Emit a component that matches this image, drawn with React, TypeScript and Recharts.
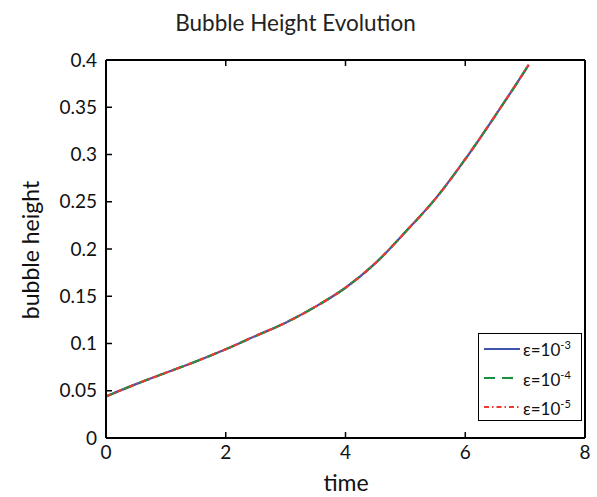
import { LineChart, Line, XAxis, YAxis, Legend } from 'recharts';

// bubble height vs time
const times = [0, 0.5, 1, 1.5, 2, 2.5, 3, 3.5, 4, 4.5, 5, 5.5, 6, 6.5, 7, 7.06];
const heightEps3 = [0.044, 0.057, 0.069, 0.081, 0.094, 0.108, 0.122, 0.139, 0.159, 0.185, 0.218, 0.253, 0.295, 0.341, 0.389, 0.395];
const heightEps4 = [0.044, 0.057, 0.069, 0.081, 0.094, 0.108, 0.122, 0.139, 0.159, 0.185, 0.218, 0.253, 0.295, 0.341, 0.389, 0.395];
const heightEps5 = [0.044, 0.057, 0.069, 0.081, 0.094, 0.108, 0.122, 0.139, 0.159, 0.185, 0.218, 0.253, 0.295, 0.341, 0.389, 0.395];

const xTicks = [0, 2, 4, 6, 8];
const yTicks = [0, 0.05, 0.1, 0.15, 0.2, 0.25, 0.3, 0.35, 0.4];

const seriesInfo = [
  { key: 'e3', exp: '-3', color: '#3f55ad', dash: undefined },
  { key: 'e4', exp: '-4', color: '#17903f', dash: '11 7' },
  { key: 'e5', exp: '-5', color: '#ee3a2c', dash: '5 3 1.5 3' },
];

const data = times.map((t, i) => ({ t, e3: heightEps3[i], e4: heightEps4[i], e5: heightEps5[i] }));

const FONT = 'Lato, "DejaVu Sans", sans-serif';
const tickStyle = { fill: '#111', fontSize: 19, fontFamily: FONT };
const axisLine = { stroke: '#000', strokeWidth: 2 };
const tickLine = { stroke: '#000', strokeWidth: 1.5 };
const NoLabel = () => <g />;

function LegendBox() {
  return (
    <div style={{ width: 104, height: 88, border: '1.5px solid #000', background: '#fff', boxSizing: 'border-box', fontFamily: FONT }}>
      {seriesInfo.map((s) => (
        <div key={s.key} style={{ display: 'flex', alignItems: 'center', height: 29.3 }}>
          <svg width={41} height={10} style={{ marginLeft: 3 }}>
            <line x1={2} x2={38} y1={5} y2={5} stroke={s.color} strokeWidth={2.2} strokeDasharray={s.dash} />
          </svg>
          <span style={{ fontSize: 17, color: '#111', lineHeight: 1 }}>
            ε=10<sup style={{ fontSize: 11 }}>{s.exp}</sup>
          </span>
        </div>
      ))}
    </div>
  );
}

export default function App() {
  return (
    <div style={{ position: 'absolute', left: 0, top: 0, width: 597, height: 497, background: '#fff' }}>
      <div style={{ position: 'absolute', left: 0, width: 591, top: 9, textAlign: 'center', fontFamily: FONT, fontSize: 22.5, color: '#222' }}>
        Bubble Height Evolution
      </div>
      <div style={{ position: 'absolute', left: 346, top: 468, transform: 'translateX(-50%)', fontFamily: FONT, fontSize: 23, color: '#111' }}>
        time
      </div>
      <div style={{ position: 'absolute', left: 30, top: 250, transform: 'translate(-50%, -50%) rotate(-90deg)', whiteSpace: 'nowrap', fontFamily: FONT, fontSize: 23, color: '#111' }}>
        bubble height
      </div>
      <LineChart width={597} height={497} data={data} margin={{ top: 0, right: 0, bottom: 0, left: 0 }}>
        <XAxis xAxisId="b" dataKey="t" type="number" domain={[0, 8]} ticks={xTicks} orientation="bottom" height={59}
          axisLine={axisLine} tickLine={tickLine} tickSize={-6} tickMargin={14} tick={tickStyle} interval={0} />
        <XAxis xAxisId="t" dataKey="t" type="number" domain={[0, 8]} ticks={xTicks} orientation="top" height={60}
          axisLine={axisLine} tickLine={tickLine} tickSize={-6} tick={NoLabel} interval={0} />
        <YAxis yAxisId="l" type="number" domain={[0, 0.4]} ticks={yTicks} orientation="left" width={106}
          axisLine={axisLine} tickLine={tickLine} tickSize={-6} tickMargin={15} tick={tickStyle} interval={0} />
        <YAxis yAxisId="r" type="number" domain={[0, 0.4]} ticks={yTicks} orientation="right" width={12}
          axisLine={axisLine} tickLine={tickLine} tickSize={-6} tick={NoLabel} interval={0} />
        {seriesInfo.map((s) => (
          <Line key={s.key} xAxisId="b" yAxisId="l" dataKey={s.key} type="monotone" stroke={s.color}
            strokeWidth={2.2} strokeDasharray={s.dash} dot={false} isAnimationActive={false} />
        ))}
        <Legend layout="vertical" align="center" verticalAlign="middle" content={() => <LegendBox />}
          wrapperStyle={{ position: 'absolute', left: 478, top: 333, width: 104, height: 88 }} />
      </LineChart>
    </div>
  );
}
